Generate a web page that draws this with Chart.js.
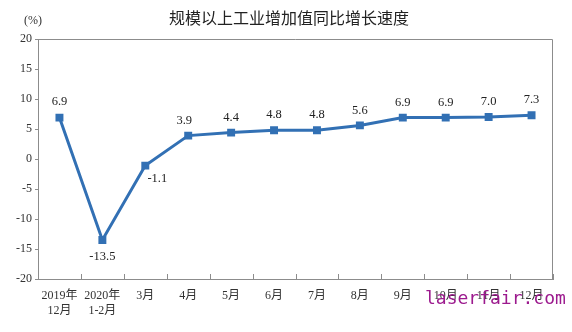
<!DOCTYPE html>
<html>
<head>
<meta charset="utf-8">
<script src="https://cdn.jsdelivr.net/npm/chart.js@4/dist/chart.umd.min.js"></script>
<style>
  html, body { margin: 0; padding: 0; background: #fff; }
  #wrap { width: 572px; height: 332px; }
</style>
</head>
<body>
<div id="wrap"><canvas id="c" width="572" height="332"></canvas></div>
<script>
// Monthly year-on-year growth of industrial value added (%)
const categories = [
  ['2019年', '12月'], ['2020年', '1-2月'], '3月', '4月', '5月', '6月',
  '7月', '8月', '9月', '10月', '11月', '12月'
];
const growth = [6.9, -13.5, -1.1, 3.9, 4.4, 4.8, 4.8, 5.6, 6.9, 6.9, 7.0, 7.3];
const yTicks = [-20, -15, -10, -5, 0, 5, 10, 15, 20];

const titleText = '规模以上工业增加值同比增长速度';
const unitText = '(%)';
const siteText = 'laserfair.com';

const serif = '"Liberation Serif", "Times New Roman", "Noto Sans CJK SC", serif';
const lineColor = '#3270b4';
const axisColor = '#8c8c8c';

// label offsets relative to each point (dx, dy)
const labelOffsets = [
  [0, -16], [0, 17], [12, 13], [-4, -15], [0, -15], [0, -15],
  [0, -15], [0, -15], [0, -15], [0, -15], [0, -15], [0, -15]
];

const decor = {
  id: 'decor',
  afterDraw(chart) {
    const ctx = chart.ctx;
    const area = chart.chartArea;
    const x = chart.scales.x, y = chart.scales.y;
    ctx.save();
    // title
    ctx.fillStyle = '#222';
    ctx.font = '16px "Noto Sans CJK SC", sans-serif';
    ctx.textAlign = 'center';
    ctx.textBaseline = 'middle';
    ctx.fillText(titleText, 289, 18);
    // unit
    ctx.font = '12px ' + serif;
    ctx.fillStyle = '#333';
    ctx.fillText(unitText, 33, 21);

    // frame: top and right border
    ctx.strokeStyle = axisColor;
    ctx.lineWidth = 1;
    ctx.beginPath();
    ctx.moveTo(area.left, area.top + 0.5);
    ctx.lineTo(area.right - 0.5, area.top + 0.5);
    ctx.lineTo(area.right - 0.5, area.bottom);
    ctx.stroke();

    // category separators on the x axis, pointing up
    const step = (x.getPixelForValue(1) - x.getPixelForValue(0));
    ctx.beginPath();
    for (let i = 0; i <= categories.length; i++) {
      const px = Math.round(x.getPixelForValue(i) - step / 2) + 0.5;
      ctx.moveTo(px, area.bottom);
      ctx.lineTo(px, area.bottom - 5);
    }
    // y ticks, pointing left
    yTicks.forEach(v => {
      const py = Math.round(y.getPixelForValue(v)) + 0.5;
      ctx.moveTo(area.left - 3, py);
      ctx.lineTo(area.left, py);
    });
    ctx.stroke();

    // value labels
    const meta = chart.getDatasetMeta(0);
    ctx.fillStyle = '#222';
    ctx.font = '12.5px ' + serif;
    meta.data.forEach((pt, i) => {
      const o = labelOffsets[i];
      ctx.fillText(growth[i].toFixed(1), pt.x + o[0], pt.y + o[1]);
    });

    // site mark
    ctx.fillStyle = '#9c1a8e';
    ctx.font = '18px "DejaVu Sans Mono", monospace';
    ctx.textAlign = 'left';
    ctx.fillText(siteText, 425, 299);
    ctx.restore();
  }
};

new Chart(document.getElementById('c'), {
  type: 'line',
  data: {
    labels: categories,
    datasets: [{
      data: growth,
      borderColor: lineColor,
      backgroundColor: lineColor,
      borderWidth: 3,
      pointStyle: 'rect',
      pointRadius: 3.5,
      pointHoverRadius: 3.5,
      tension: 0,
      clip: false
    }]
  },
  options: {
    responsive: false,
    animation: false,
    events: [],
    layout: { padding: { top: 39, right: 19, left: 0, bottom: 0 } },
    plugins: { legend: { display: false }, tooltip: { enabled: false }, title: { display: false } },
    scales: {
      x: {
        offset: true,
        grid: { display: false, drawTicks: false },
        border: { display: true, color: axisColor, width: 1 },
        ticks: {
          color: '#333',
          font: { family: serif, size: 12 },
          padding: 10,
          maxRotation: 0,
          autoSkip: false
        },
        afterFit(s) { s.height = 53; }
      },
      y: {
        min: -20, max: 20,
        afterBuildTicks(s) { s.ticks = yTicks.map(v => ({ value: v })); },
        grid: { display: false, drawTicks: false },
        border: { display: true, color: axisColor, width: 1 },
        ticks: {
          color: '#333',
          font: { family: serif, size: 12 },
          padding: 6
        },
        afterFit(s) { s.width = 38; }
      }
    }
  },
  plugins: [decor]
});
</script>
</body>
</html>
